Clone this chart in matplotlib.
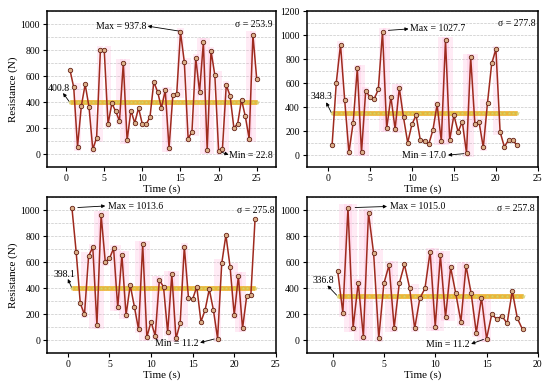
import numpy as np
import matplotlib
matplotlib.use("Agg")
import matplotlib.pyplot as plt

plt.rcParams['font.family'] = ['Liberation Serif', 'DejaVu Serif']
plt.rcParams['mathtext.fontset'] = 'stix'

# --- data (time step 0.5 s) ---
force_a = [650, 514, 57, 370, 537, 365, 36, 126, 802, 800,
           231, 390, 330, 255, 700, 105, 335, 240, 355, 230,
           230, 285, 555, 480, 355, 490, 45, 455, 460, 937.8,
           710, 120, 170, 740, 480, 860, 30, 795, 610, 22.8,
           40, 530, 450, 200, 235, 420, 290, 120, 915, 575]
force_b = [83, 605, 922, 458, 22, 264, 722, 22, 536, 486,
           467, 547, 1027.7, 222, 486, 217, 561, 314, 103, 256,
           333, 125, 120, 89, 208, 422, 117, 958, 125, 333,
           194, 278, 17.0, 814, 258, 272, 65, 436, 764, 883,
           194, 69, 125, 125, 83]
force_c = [1013.6, 680, 282, 197, 649, 713, 115, 962, 603, 628,
           705, 251, 654, 192, 423, 256, 82, 736, 23, 141,
           33, 461, 410, 59, 505, 13, 128, 718, 326, 315,
           410, 141, 231, 392, 231, 11.2, 590, 808, 564, 192,
           492, 90, 338, 346, 928]
force_d = [531, 210, 1015.0, 95, 441, 26, 979, 667, 13, 436,
           577, 95, 436, 582, 403, 90, 321, 397, 680, 103,
           653, 174, 559, 359, 141, 572, 359, 56, 326, 11.2,
           197, 162, 185, 128, 377, 167, 82]

mean_vals = [400.8, 348.3, 398.1, 336.8]
std_vals = [253.9, 277.8, 275.8, 257.8]
max_vals = [937.8, 1027.7, 1013.6, 1015.0]
min_vals = [22.8, 17.0, 11.2, 11.2]

panels = [
    dict(y=force_a, pos=[0.0855, 0.566, 0.416, 0.405], xlim=(-2.5, 27.5), ylim=(-100, 1100),
         yticks=range(0, 1001, 200), xticks=range(0, 26, 5), ylabel=True,
         max_txt=(7.2, 985, 'center'), max_arrow=((10.7, 985), (15.0, 945)),
         min_txt=(21.4, -10, 'left'), min_arrow=((21.3, -5), (20.2, 18)),
         mean_txt=(-0.9, 505), mean_arrow=((-0.4, 470), (0.4, 405)),
         sig=(27.0, 1000)),
    dict(y=force_b, pos=[0.558, 0.566, 0.42, 0.405], xlim=(-2.5, 25), ylim=(-100, 1200),
         yticks=range(0, 1201, 200), xticks=range(0, 26, 5), ylabel=False,
         max_txt=(9.8, 1052, 'left'), max_arrow=((9.6, 1052), (7.2, 1040)),
         min_txt=(14.0, -5, 'right'), min_arrow=((14.3, 0), (16.2, 12)),
         mean_txt=(-0.8, 485), mean_arrow=((-0.2, 440), (0.4, 355)),
         sig=(24.7, 1097)),
    dict(y=force_c, pos=[0.0855, 0.083, 0.416, 0.405], xlim=(-2.5, 25), ylim=(-100, 1100),
         yticks=range(0, 1001, 200), xticks=range(0, 26, 5), ylabel=True,
         max_txt=(4.8, 1030, 'left'), max_arrow=((4.5, 1032), (1.2, 1020)),
         min_txt=(15.7, -25, 'right'), min_arrow=((15.9, -20), (17.6, 8)),
         mean_txt=(-0.4, 505), mean_arrow=((0.0, 470), (0.45, 405)),
         sig=(24.8, 995)),
    dict(y=force_d, pos=[0.558, 0.083, 0.42, 0.405], xlim=(-2.5, 20), ylim=(-100, 1100),
         yticks=range(0, 1001, 200), xticks=range(0, 21, 5), ylabel=False,
         max_txt=(5.6, 1025, 'left'), max_arrow=((5.3, 1028), (2.2, 1020)),
         min_txt=(13.3, -38, 'right'), min_arrow=((13.5, -30), (14.7, 5)),
         mean_txt=(-0.9, 455), mean_arrow=((-0.5, 420), (0.4, 345)),
         sig=(19.7, 1010)),
]

fig = plt.figure(figsize=(5.5, 3.85), dpi=100)

for i, p in enumerate(panels):
    ax = fig.add_axes(p['pos'])
    y = np.array(p['y'], dtype=float)
    t = 0.5 * np.arange(1, len(y) + 1)

    # pink highlight columns around strong peaks / troughs
    for k in range(1, len(y) - 1):
        lo_n = min(y[k - 1], y[k + 1])
        hi_n = max(y[k - 1], y[k + 1])
        if y[k] > hi_n and y[k] - lo_n > 300:
            ax.fill_between([t[k] - 0.4, t[k] + 0.4], lo_n - 30, y[k] + 30,
                            color='#ff9ccf', alpha=0.2, lw=0, zorder=1)
        elif y[k] < lo_n and hi_n - y[k] > 300:
            ax.fill_between([t[k] - 0.4, t[k] + 0.4], y[k] - 30, hi_n + 30,
                            color='#ff9ccf', alpha=0.2, lw=0, zorder=1)

    ax.plot(t, y, color='#9e2a1e', lw=1.1, marker='o', ms=3.2,
            mfc='#dcb08a', mec='#642014', mew=0.6, zorder=4)

    m = mean_vals[i]
    ax.plot([t[0], t[-1]], [m, m], color='#f0b434', lw=3.4, solid_capstyle='butt', zorder=3)
    ax.plot(t, np.full_like(t, m), ls='none', marker='*', ms=3.2,
            color='#dcd468', mec='#c8c050', mew=0.2, alpha=0.9, zorder=3.5)

    # annotations
    akw = dict(arrowstyle='-|>', color='black', lw=0.6, mutation_scale=5,
               shrinkA=0, shrinkB=0)
    mx, my, mha = p['max_txt']
    ax.text(mx, my, f'Max = {max_vals[i]:.1f}', ha=mha, va='center', fontsize=7, zorder=6)
    ax.annotate('', xy=p['max_arrow'][0], xytext=p['max_arrow'][1], arrowprops=akw)
    nx, ny, nha = p['min_txt']
    ax.text(nx, ny, f'Min = {min_vals[i]:.1f}', ha=nha, va='center', fontsize=7, zorder=6)
    ax.annotate('', xy=p['min_arrow'][0], xytext=p['min_arrow'][1], arrowprops=akw)
    ax.text(p['mean_txt'][0], p['mean_txt'][1], f'{m:.1f}', ha='center', va='center',
            fontsize=7, zorder=6)
    ax.annotate('', xy=p['mean_arrow'][0], xytext=p['mean_arrow'][1], arrowprops=akw)
    ax.text(p['sig'][0], p['sig'][1], f'σ = {std_vals[i]:.1f}', ha='right', va='center',
            fontsize=7, zorder=6)

    ax.set_xlim(*p['xlim'])
    ax.set_ylim(*p['ylim'])
    ax.set_xticks(list(p['xticks']))
    ax.set_yticks(list(p['yticks']))
    ax.set_yticks(np.arange(p['ylim'][0], p['ylim'][1] + 1, 100), minor=True)
    ax.grid(True, which='both', axis='y', color='#c8c8c8', ls='--', lw=0.5, zorder=0)
    ax.set_axisbelow(True)
    ax.tick_params(axis='both', which='major', direction='out', length=3, width=0.8,
                   labelsize=7, pad=2)
    ax.tick_params(axis='y', which='minor', length=0)
    for s in ax.spines.values():
        s.set_linewidth(1.1)
    ax.set_xlabel('Time (s)', fontsize=8, labelpad=1)
    if p['ylabel']:
        ax.set_ylabel('Resistance (N)', fontsize=8, labelpad=2)

fig.savefig('out.png', dpi=100)
